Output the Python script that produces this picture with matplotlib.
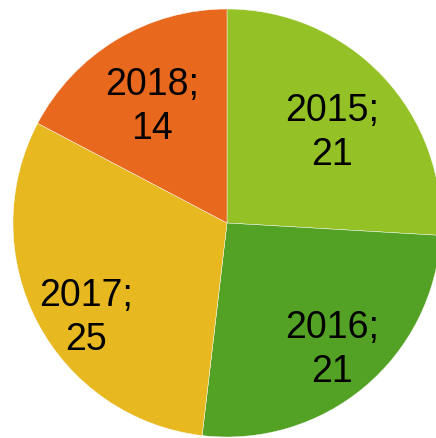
import matplotlib.pyplot as plt

years = ["2015", "2016", "2017", "2018"]
counts = [21, 21, 25, 14]
colors = ["#94C226", "#54A225", "#E7B820", "#E8691E"]
# label centres in data units (pie radius = 1)
label_pos = [(0.49, 0.42), (0.49, -0.593), (-0.659, -0.444), (-0.35, 0.542)]

fig = plt.figure(figsize=(4.36, 4.38), dpi=100)
ax = fig.add_axes([0, 0, 1, 1])

ax.pie(counts, colors=colors, startangle=90, counterclock=False,
       radius=1, wedgeprops=dict(edgecolor="white", linewidth=0.3))

for yr, n, (x, y) in zip(years, counts, label_pos):
    ax.text(x, y, f"{yr};\n{n}", ha="center", va="center", fontsize=27,
            family="Liberation Sans", linespacing=1.3)

r_px = 214.0
cx, cy = 227.0, 223.0
ax.set_xlim(-cx / r_px, (436 - cx) / r_px)
ax.set_ylim(-(438 - cy) / r_px, cy / r_px)
ax.set_aspect("auto")
ax.axis("off")

fig.savefig("out.png", dpi=100)
